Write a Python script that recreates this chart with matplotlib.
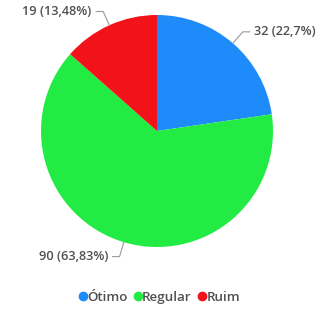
import numpy as np
import matplotlib.pyplot as plt
from matplotlib.lines import Line2D

# data
categorias = ["Ótimo", "Regular", "Ruim"]
valores = [32, 90, 19]
rotulos = ["32 (22,7%)", "90 (63,83%)", "19 (13,48%)"]
cores = ["#1E8BFA", "#22EC44", "#F2121A"]

plt.rcParams['font.family'] = ['Open Sans', 'DejaVu Sans']

fig = plt.figure(figsize=(3.27, 3.09), dpi=100)
ax = fig.add_axes([41/327, 62/309, 232/327, 232/309])

wedges, _ = ax.pie(valores, colors=cores, startangle=90, counterclock=False,
                   radius=1.0, wedgeprops=dict(linewidth=0))
ax.set_xlim(-1, 1)
ax.set_ylim(-1, 1)
ax.set_aspect('equal')
ax.axis('off')

# leader lines + labels
for w, txt in zip(wedges, rotulos):
    ang = np.deg2rad((w.theta1 + w.theta2) / 2)
    c, s = np.cos(ang), np.sin(ang)
    x0, y0 = 1.0 * c, 1.0 * s
    x1, y1 = 1.13 * c, 1.13 * s
    d = 1 if c >= 0 else -1
    x2 = x1 + d * 0.06
    ax.plot([x0, x1, x2], [y0, y1, y1], color="#9a9a9a", lw=0.8,
            clip_on=False, solid_joinstyle='miter')
    ax.text(x2 + d * 0.04, y1, txt, ha='left' if d > 0 else 'right',
            va='center', fontsize=9.2, fontweight='semibold',
            color="#505050", clip_on=False)

handles = [Line2D([], [], marker='o', ls='', color=c, markersize=6) for c in cores]
fig.legend(handles, categorias, loc='center', bbox_to_anchor=(0.482, 0.037),
           ncol=3, frameon=False, handletextpad=-0.3, columnspacing=0.2,
           handlelength=1.2, prop=dict(size=9.6, weight='semibold'),
           labelcolor="#505050")

fig.savefig("out.png", dpi=100, facecolor="white")
